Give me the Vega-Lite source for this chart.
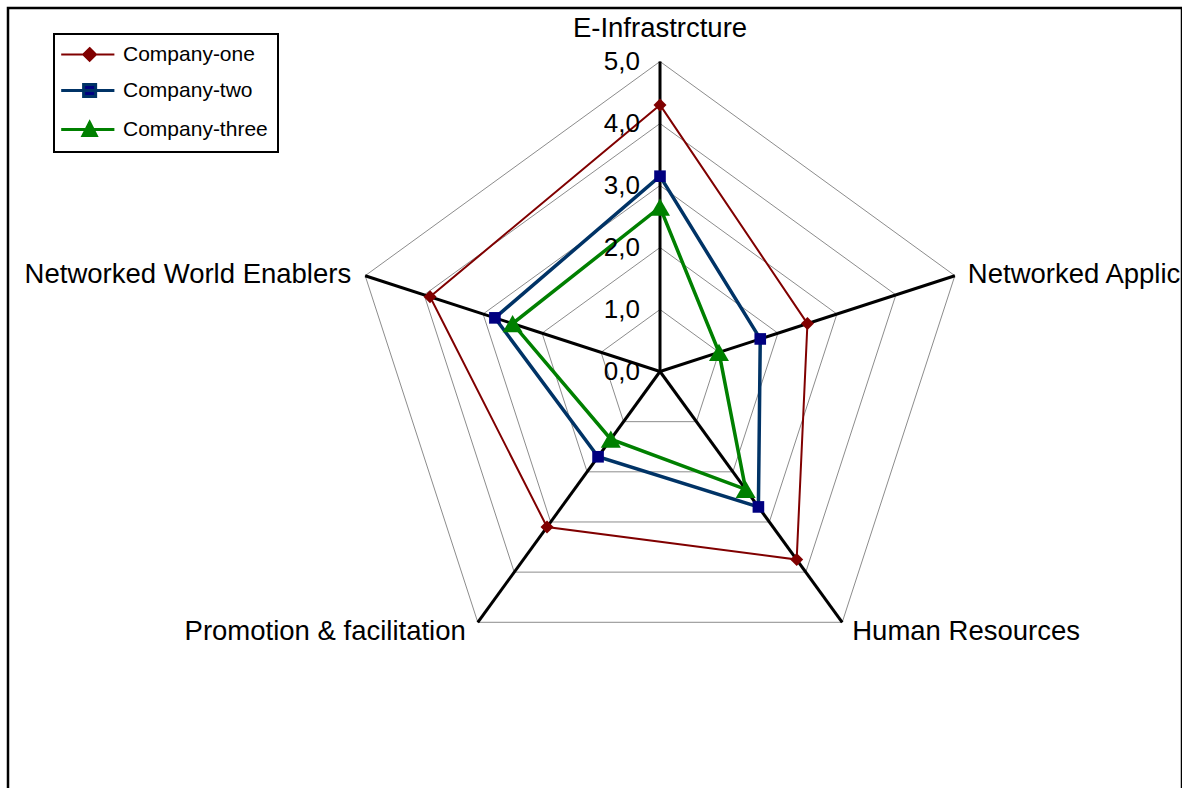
{
  "$schema": "https://vega.github.io/schema/vega-lite/v6.json",
  "width": 1174,
  "height": 820,
  "autosize": {"type": "none"},
  "padding": {"left": 8, "top": 8, "right": 0, "bottom": 0},
  "background": "white",
  "config": {"view": {"stroke": "black", "strokeWidth": 2.5}, "text": {"font": "Liberation Sans"}},
  "datasets": {
    "scores": [
      {"company": "Company-one", "category": "E-Infrastrcture", "value": 4.3},
      {"company": "Company-one", "category": "Networked Applications", "value": 2.5},
      {"company": "Company-one", "category": "Human Resources", "value": 3.75},
      {"company": "Company-one", "category": "Promotion & facilitation", "value": 3.1},
      {"company": "Company-one", "category": "Networked World Enablers", "value": 3.9},
      {"company": "Company-two", "category": "E-Infrastrcture", "value": 3.15},
      {"company": "Company-two", "category": "Networked Applications", "value": 1.7},
      {"company": "Company-two", "category": "Human Resources", "value": 2.7},
      {"company": "Company-two", "category": "Promotion & facilitation", "value": 1.7},
      {"company": "Company-two", "category": "Networked World Enablers", "value": 2.8},
      {"company": "Company-three", "category": "E-Infrastrcture", "value": 2.65},
      {"company": "Company-three", "category": "Networked Applications", "value": 1.0},
      {"company": "Company-three", "category": "Human Resources", "value": 2.35},
      {"company": "Company-three", "category": "Promotion & facilitation", "value": 1.35},
      {"company": "Company-three", "category": "Networked World Enablers", "value": 2.5}
    ],
    "axes": [
      {"category": "E-Infrastrcture", "levels": [1, 2, 3, 4, 5]},
      {"category": "Networked Applications", "levels": [1, 2, 3, 4, 5]},
      {"category": "Human Resources", "levels": [1, 2, 3, 4, 5]},
      {"category": "Promotion & facilitation", "levels": [1, 2, 3, 4, 5]},
      {"category": "Networked World Enablers", "levels": [1, 2, 3, 4, 5]}
    ],
    "ticks": [
      {"level": 0, "label": "0,0"},
      {"level": 1, "label": "1,0"},
      {"level": 2, "label": "2,0"},
      {"level": 3, "label": "3,0"},
      {"level": 4, "label": "4,0"},
      {"level": 5, "label": "5,0"}
    ]
  },
  "encoding": {
    "x": {"field": "x", "type": "quantitative", "scale": {"domain": [-10.516, 8.419], "zero": false, "nice": false}, "axis": null},
    "y": {"field": "y", "type": "quantitative", "scale": {"domain": [-7.363, 5.863], "zero": false, "nice": false}, "axis": null}
  },
  "layer": [
    {
      "data": {"name": "axes"},
      "transform": [
        {"flatten": ["levels"]},
        {"calculate": "indexof(['E-Infrastrcture','Networked Applications','Human Resources','Promotion & facilitation','Networked World Enablers'], datum.category)", "as": "idx"},
        {"calculate": "PI/2 - datum.idx*2*PI/5", "as": "ang"},
        {"calculate": "datum.levels*cos(datum.ang)", "as": "x"},
        {"calculate": "datum.levels*sin(datum.ang)", "as": "y"}
      ],
      "mark": {"type": "line", "interpolate": "linear-closed", "color": "#8c8c8c", "strokeWidth": 1},
      "encoding": {
        "detail": {"field": "levels", "type": "nominal"},
        "order": {"field": "idx", "type": "quantitative"}
      }
    },
    {
      "data": {"name": "axes"},
      "transform": [
        {"calculate": "indexof(['E-Infrastrcture','Networked Applications','Human Resources','Promotion & facilitation','Networked World Enablers'], datum.category)", "as": "idx"},
        {"calculate": "PI/2 - datum.idx*2*PI/5", "as": "ang"},
        {"calculate": "0", "as": "x"},
        {"calculate": "0", "as": "y"},
        {"calculate": "5*cos(datum.ang)", "as": "ex"},
        {"calculate": "5*sin(datum.ang)", "as": "ey"}
      ],
      "mark": {"type": "rule", "color": "black", "strokeWidth": 3},
      "encoding": {
        "x2": {"field": "ex"},
        "y2": {"field": "ey"}
      }
    },
    {
      "data": {"name": "scores"},
      "transform": [
        {"calculate": "indexof(['E-Infrastrcture','Networked Applications','Human Resources','Promotion & facilitation','Networked World Enablers'], datum.category)", "as": "idx"},
        {"calculate": "PI/2 - datum.idx*2*PI/5", "as": "ang"},
        {"calculate": "datum.value*cos(datum.ang)", "as": "x"},
        {"calculate": "datum.value*sin(datum.ang)", "as": "y"}
      ],
      "mark": {"type": "line", "interpolate": "linear-closed"},
      "encoding": {
        "color": {
          "field": "company", "type": "nominal",
          "scale": {"domain": ["Company-one", "Company-two", "Company-three"], "range": ["#800000", "#003366", "#008000"]},
          "legend": {
            "orient": "none", "legendX": 46, "legendY": 26, "title": null,
            "strokeColor": "black", "fillColor": "white", "padding": 10,
            "labelFont": "Liberation Sans", "labelFontSize": 21, "labelColor": "black",
            "symbolSize": 784, "labelOffset": 38, "rowPadding": 13,
            "encode": {
              "legend": {"update": {"strokeWidth": {"value": 2}}},
              "symbols": {"update": {
                "shape": {"signal": "datum.value === 'Company-one' ? 'M-0.95,0L2.85,0M1.08,-0.46L1.54,0L1.08,0.46L0.62,0Z' : datum.value === 'Company-two' ? 'M-0.95,0L2.85,0M0.65,-0.43L1.51,-0.43L1.51,0.43L0.65,0.43Z' : 'M-0.95,0L2.85,0M1.08,-0.5L1.55,0.42L0.61,0.42Z'"},
                "fill": {"signal": "datum.value === 'Company-one' ? '#800000' : datum.value === 'Company-two' ? '#000080' : '#008000'"},
                "stroke": {"signal": "datum.value === 'Company-one' ? '#800000' : datum.value === 'Company-two' ? '#003366' : '#008000'"},
                "strokeWidth": {"signal": "datum.value === 'Company-one' ? 2 : 3"},
                "size": {"value": 784},
                "opacity": {"value": 1}
              }}
            }
          }
        },
        "strokeWidth": {
          "field": "company", "type": "nominal",
          "scale": {"type": "ordinal", "domain": ["Company-three", "Company-two", "Company-one"], "range": [3.5, 3.5, 2]},
          "legend": null
        },
        "order": {"field": "idx", "type": "quantitative"}
      }
    },
    {
      "data": {"name": "scores"},
      "transform": [
        {"calculate": "indexof(['E-Infrastrcture','Networked Applications','Human Resources','Promotion & facilitation','Networked World Enablers'], datum.category)", "as": "idx"},
        {"calculate": "PI/2 - datum.idx*2*PI/5", "as": "ang"},
        {"calculate": "datum.value*cos(datum.ang)", "as": "x"},
        {"calculate": "datum.value*sin(datum.ang)", "as": "y"},
        {"calculate": "datum.company", "as": "series"}
      ],
      "mark": {"type": "point", "filled": true, "opacity": 1, "strokeWidth": 0},
      "encoding": {
        "fill": {
          "field": "series", "type": "nominal",
          "scale": {"domain": ["Company-three", "Company-one", "Company-two"], "range": ["#008000", "#800000", "#000080"]},
          "legend": null
        },
        "shape": {
          "field": "series", "type": "nominal",
          "scale": {"domain": ["Company-two", "Company-three", "Company-one"], "range": ["square", "triangle-up", "diamond"]},
          "legend": null
        },
        "size": {
          "field": "series", "type": "nominal",
          "scale": {"type": "ordinal", "domain": ["Company-two", "Company-one", "Company-three"], "range": [135, 170, 400]},
          "legend": null
        }
      }
    },
    {
      "data": {"name": "ticks"},
      "transform": [
        {"calculate": "0", "as": "x"},
        {"calculate": "datum.level", "as": "y"}
      ],
      "mark": {"type": "text", "align": "right", "baseline": "middle", "dx": -20, "fontSize": 26, "color": "black", "font": "Liberation Sans"},
      "encoding": {"text": {"field": "label"}}
    },
    {
      "data": {"name": "axes"},
      "transform": [
        {"filter": "datum.category === 'E-Infrastrcture'"},
        {"calculate": "0", "as": "x"},
        {"calculate": "5", "as": "y"}
      ],
      "mark": {"type": "text", "align": "center", "baseline": "alphabetic", "dy": -25, "fontSize": 27.5, "color": "black", "font": "Liberation Sans", "clip": true},
      "encoding": {"text": {"field": "category"}}
    },
    {
      "data": {"name": "axes"},
      "transform": [
        {"filter": "datum.category === 'Networked Applications'"},
        {"calculate": "5*cos(PI/2 - 2*PI/5)", "as": "x"},
        {"calculate": "5*sin(PI/2 - 2*PI/5)", "as": "y"}
      ],
      "mark": {"type": "text", "align": "left", "baseline": "middle", "dx": 13, "dy": -1, "fontSize": 27.5, "color": "black", "font": "Liberation Sans", "clip": true},
      "encoding": {"text": {"field": "category"}}
    },
    {
      "data": {"name": "axes"},
      "transform": [
        {"filter": "datum.category === 'Human Resources'"},
        {"calculate": "5*cos(PI/2 - 4*PI/5)", "as": "x"},
        {"calculate": "5*sin(PI/2 - 4*PI/5)", "as": "y"}
      ],
      "mark": {"type": "text", "align": "left", "baseline": "middle", "dx": 10, "dy": 10, "fontSize": 27.5, "color": "black", "font": "Liberation Sans", "clip": true},
      "encoding": {"text": {"field": "category"}}
    },
    {
      "data": {"name": "axes"},
      "transform": [
        {"filter": "datum.category === 'Promotion & facilitation'"},
        {"calculate": "5*cos(PI/2 - 6*PI/5)", "as": "x"},
        {"calculate": "5*sin(PI/2 - 6*PI/5)", "as": "y"}
      ],
      "mark": {"type": "text", "align": "right", "baseline": "middle", "dx": -12, "dy": 10, "fontSize": 27.5, "color": "black", "font": "Liberation Sans", "clip": true},
      "encoding": {"text": {"field": "category"}}
    },
    {
      "data": {"name": "axes"},
      "transform": [
        {"filter": "datum.category === 'Networked World Enablers'"},
        {"calculate": "5*cos(PI/2 - 8*PI/5)", "as": "x"},
        {"calculate": "5*sin(PI/2 - 8*PI/5)", "as": "y"}
      ],
      "mark": {"type": "text", "align": "right", "baseline": "middle", "dx": -14, "dy": -1, "fontSize": 27.5, "color": "black", "font": "Liberation Sans", "clip": true},
      "encoding": {"text": {"field": "category"}}
    }
  ]
}
